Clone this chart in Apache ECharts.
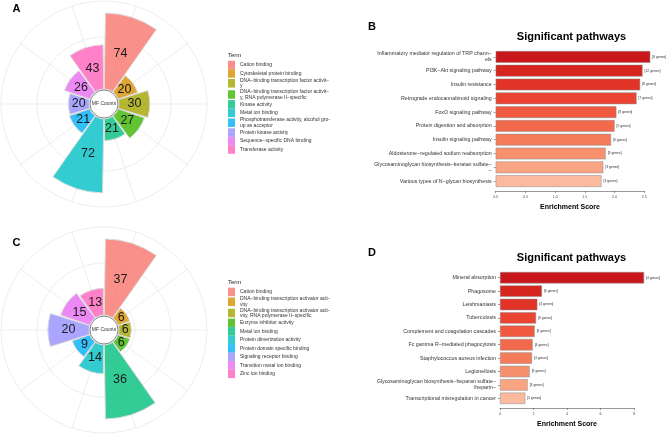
<!DOCTYPE html>
<html><head><meta charset="utf-8">
<script src="https://cdn.jsdelivr.net/npm/echarts@6/dist/echarts.min.js"></script>
<style>
html,body{margin:0;padding:0;background:#fff;width:668px;height:434px;overflow:hidden}
.p{position:absolute}
</style></head><body>
<div id="a" class="p" style="left:0;top:0;width:330px;height:217px"></div>
<div id="b" class="p" style="left:330px;top:0;width:338px;height:217px"></div>
<div id="c" class="p" style="left:0;top:217px;width:330px;height:217px"></div>
<div id="d" class="p" style="left:330px;top:217px;width:338px;height:217px"></div>
<script>
// ---------- data ----------
const termsA = [
  "Cation binding",
  "Cytoskeletal protein binding",
  "DNA\u2212binding transcription factor activit\u2212\ny",
  "DNA\u2212binding transcription factor activit\u2212\ny, RNA polymerase II\u2212specific",
  "Kinase activity",
  "Metal ion binding",
  "Phosphotransferase activity, alcohol gro\u2212\nup as acceptor",
  "Protein kinase activity",
  "Sequence\u2212specific DNA binding",
  "Transferase activity"
];
const countsA = [74, 20, 30, 27, 21, 72, 21, 20, 26, 43];

const termsC = [
  "Cation binding",
  "DNA\u2212binding transcription activator acti\u2212\nvity",
  "DNA\u2212binding transcription activator acti\u2212\nvity, RNA polymerase II\u2212specific",
  "Enzyme inhibitor activity",
  "Metal ion binding",
  "Protein dimerization activity",
  "Protein domain specific binding",
  "Signaling receptor binding",
  "Transition metal ion binding",
  "Zinc ion binding"
];
const countsC = [37, 6, 6, 6, 36, 14, 9, 20, 15, 13];

const pathwaysB = [
  "Inflammatory mediator regulation of TRP chann\u2212\nels",
  "PI3K\u2212Akt signaling pathway",
  "Insulin resistance",
  "Retrograde endocannabinoid signaling",
  "FoxO signaling pathway",
  "Protein digestion and absorption",
  "Insulin signaling pathway",
  "Aldosterone\u2212regulated sodium reabsorption",
  "Glycosaminoglycan biosynthesis\u2212keratan sulfate\u2212\n\u2212",
  "Various types of N\u2212glycan biosynthesis"
];
const scoresB = [2.60, 2.47, 2.43, 2.37, 2.03, 2.00, 1.94, 1.85, 1.81, 1.78];
const genesB = ["[6 genes]", "[12 genes]", "[8 genes]", "[7 genes]", "[8 genes]", "[5 genes]", "[6 genes]", "[3 genes]", "[3 genes]", "[3 genes]"];

const pathwaysD = [
  "Mineral absorption",
  "Phagosome",
  "Leishmaniasis",
  "Tuberculosis",
  "Complement and coagulation cascades",
  "Fc gamma R\u2212mediated phagocytosis",
  "Staphylococcus aureus infection",
  "Legionellosis",
  "Glycosaminoglycan biosynthesis\u2212heparan sulfate\u2212\n/heparin\u2212",
  "Transcriptional misregulation in cancer"
];
const scoresD = [8.6, 2.50, 2.23, 2.15, 2.07, 1.95, 1.91, 1.77, 1.65, 1.51];
const genesD = ["[4 genes]", "[6 genes]", "[4 genes]", "[6 genes]", "[6 genes]", "[4 genes]", "[4 genes]", "[3 genes]", "[3 genes]", "[5 genes]"];

// ---------- styles ----------
const hue = ['#F8766D','#D89000','#A3A500','#39B600','#00BF7D','#00BFC4','#00B0F6','#9590FF','#E76BF3','#FF62BC'];
const reds = ['#C9171C','#D6251F','#E13327','#EB4432','#F0593F','#F3694B','#F57C5B','#F7906D','#F9A584','#FBBAA0'];
const FONT = '"Liberation Sans", Arial, Helvetica, sans-serif';
function alpha(hex, a) {
  const n = parseInt(hex.slice(1), 16);
  return 'rgba(' + ((n >> 16) & 255) + ',' + ((n >> 8) & 255) + ',' + (n & 255) + ',' + a + ')';
}
const GRID = '#ebebeb';

function rose(el, letter, terms, counts, rmax, cy, legendTop, termY, letterY) {
  const chart = echarts.init(el);
  const cx = 104;
  const series = terms.map((t, i) => ({
    type: 'bar', coordinateSystem: 'polar', polarIndex: 0, stack: 'mf', name: t,
    data: counts.map((v, j) => (j === i ? v : '-')),
    barCategoryGap: '5%',
    itemStyle: { color: alpha(hue[i], 0.8), borderColor: '#dcdcdc', borderWidth: 1 },
    label: { show: true, position: 'middle', rotate: 0, formatter: '{c}', fontSize: 12.5, color: '#1a1a1a', fontFamily: FONT },
    emphasis: { disabled: true },
    z: 3
  }));
  const hidden = { axisLine: { show: false }, axisTick: { show: false }, axisLabel: { show: false }, splitLine: { show: false } };
  chart.setOption({
    animation: false,
    polar: [
      { center: [cx, cy], radius: [15, 103] },
      { center: [cx, cy], radius: [31, 103] },
      { center: [cx, cy], radius: [15, 103] }
    ],
    angleAxis: [
      Object.assign({ polarIndex: 0, type: 'category', data: terms, startAngle: 90, clockwise: true }, hidden),
      Object.assign({ polarIndex: 1, type: 'category', data: terms, startAngle: 90 }, hidden),
      Object.assign({ polarIndex: 2, type: 'category', data: terms, startAngle: 72 }, hidden,
        { splitLine: { show: true, lineStyle: { color: GRID, width: 0.9 } } })
    ],
    radiusAxis: [
      Object.assign({ polarIndex: 0, type: 'value', min: 0, max: rmax }, hidden),
      Object.assign({ polarIndex: 1, type: 'value', min: 0, max: 2, interval: 1 }, hidden,
        { splitLine: { show: true, lineStyle: { color: GRID, width: 0.9 } } }),
      Object.assign({ polarIndex: 2, type: 'value', min: 0, max: 1 }, hidden)
    ],
    legend: {
      orient: 'vertical', left: 228, top: legendTop, padding: 0,
      itemWidth: 7, itemHeight: 8.5, itemGap: 0, icon: 'rect', selectedMode: false,
      itemStyle: { borderWidth: 0 },
      textStyle: { fontSize: 5, lineHeight: 5.6, color: '#333', fontFamily: FONT },
      data: terms
    },
    graphic: [
      { type: 'circle', shape: { cx: cx, cy: cy, r: 14 }, style: { fill: '#fff', stroke: '#666', lineWidth: 0.8 }, z: 100 },
      { type: 'text', x: cx, y: cy, style: { text: 'MF Counts', fontSize: 5, fontFamily: FONT, fill: '#333', align: 'center', verticalAlign: 'middle' }, z: 101 },
      { type: 'text', x: 228, y: termY, style: { text: 'Term', fontSize: 6, fontFamily: FONT, fill: '#222', verticalAlign: 'middle' }, z: 101 },
      { type: 'text', x: 12.5, y: letterY, style: { text: letter, fontSize: 11, fontWeight: 'bold', fontFamily: FONT, fill: '#000', verticalAlign: 'middle' }, z: 101 }
    ],
    series: series
  });
}

function pathway(el, letter, names, scores, genes, maxX, interval, dec, gl, gw, gt, gh, titleY, letterY, nameGap) {
  const chart = echarts.init(el);
  chart.setOption({
    animation: false,
    grid: { left: gl, top: gt, width: gw, height: gh, containLabel: false },
    xAxis: {
      type: 'value', min: 0, max: maxX, interval: interval, offset: 3,
      axisLine: { show: true, lineStyle: { color: '#555', width: 0.6 } },
      axisTick: { show: true, length: 2, lineStyle: { color: '#555', width: 0.6 } },
      axisLabel: { fontSize: 3.6, color: '#4d4d4d', margin: 4, fontFamily: FONT, formatter: v => v.toFixed(dec) },
      splitLine: { show: false },
      name: 'Enrichment Score', nameLocation: 'middle', nameGap: nameGap,
      nameTextStyle: { fontSize: 7, fontWeight: 'bold', color: '#000', fontFamily: FONT }
    },
    yAxis: {
      type: 'category', data: names, inverse: true,
      axisLine: { show: false },
      axisTick: { show: true, alignWithLabel: true, length: 2, lineStyle: { color: '#555', width: 0.6 } },
      axisLabel: { fontSize: 5.3, lineHeight: 5.8, color: '#333', margin: 4, fontFamily: FONT }
    },
    graphic: [
      { type: 'text', x: 241.5, y: titleY, style: { text: 'Significant pathways', fontSize: 11, fontWeight: 'bold', fontFamily: FONT, fill: '#000', align: 'center', verticalAlign: 'middle' } },
      { type: 'text', x: 38, y: letterY, style: { text: letter, fontSize: 11, fontWeight: 'bold', fontFamily: FONT, fill: '#000', verticalAlign: 'middle' } }
    ],
    series: [{
      type: 'bar', data: scores, barCategoryGap: '15%', clip: false,
      itemStyle: { color: p => reds[p.dataIndex], borderColor: '#8a8a8a', borderWidth: 0.5 },
      label: { show: true, position: 'right', distance: 2, fontSize: 3.4, color: '#333', fontFamily: FONT, formatter: p => genes[p.dataIndex] },
      emphasis: { disabled: true }
    }]
  });
}

rose(document.getElementById('a'), 'A', termsA, countsA, 85.7, 104, 60.7, 55.7, 9);
rose(document.getElementById('c'), 'C', termsC, countsC, 42.8, 113, 70.7, 65.3, 25.5);
pathway(document.getElementById('b'), 'B', pathwaysB, scoresB, genesB, 2.5, 0.5, 1, 165.7, 148.6, 50, 138, 37.3, 26.5, 10.5);
pathway(document.getElementById('d'), 'D', pathwaysD, scoresD, genesD, 8, 2, 0, 170, 134, 54, 134, 41.3, 35.5, 10);
</script>
</body></html>
